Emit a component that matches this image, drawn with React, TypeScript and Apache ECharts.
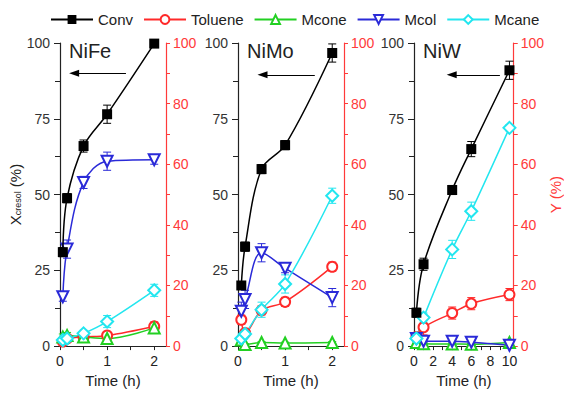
import React, { useEffect, useRef } from 'react';
import * as echarts from 'echarts';

const seriesNames = ['Conv', 'Toluene', 'Mcone', 'Mcol', 'Mcane'];
const panelTitles = ['NiFe', 'NiMo', 'NiW'];

// NiFe (time in h)
const nifeTime = [0.06, 0.15, 0.5, 1, 2];
const nifeConv = [31, 48.8, 66, 76.5, 99.8];
const nifeConvErr = [1.5, 1.5, 2, 3, 1];
const nifeToluene = [1.5, 2.5, 3, 3.5, 6.5];
const nifeTolueneErr = [1, 1, 1, 1, 1.5];
const nifeMcone = [3, 3.5, 3, 2.5, 6];
const nifeMconeErr = [1, 1, 1, 1, 1.5];
const nifeMcol = [16.3, 32, 54, 61, 61.5];
const nifeMcolErr = [1.5, 3, 2, 3, 1.5];
const nifeMcane = [2, 2.5, 4.2, 8.1, 18.4];
const nifeMcaneErr = [0.5, 0.5, 1, 2, 2];

// NiMo
const nimoTime = [0.07, 0.15, 0.5, 1, 2];
const nimoConv = [20, 32.8, 58.4, 66.3, 96.7];
const nimoConvErr = [1, 1.5, 1.5, 1.5, 3];
const nimoToluene = [8.7, 4.3, 11.8, 14.6, 26.2];
const nimoTolueneErr = [1.5, 1, 1.5, 1.5, 1.5];
const nimoMcone = [2, 0.5, 1.2, 1, 1.2];
const nimoMconeErr = [0.5, 0.3, 0.3, 0.3, 0.3];
const nimoMcol = [11.5, 15.4, 30.8, 25.7, 16];
const nimoMcolErr = [3, 3, 3, 1.5, 3];
const nimoMcane = [2.5, 4, 12, 20.5, 49.6];
const nimoMcaneErr = [0.5, 1, 2.5, 3, 2.5];

// NiW
const niwTime = [0.25, 1, 4, 6, 10];
const niwConv = [11, 27, 51.5, 65, 91];
const niwConvErr = [1.5, 2, 1.5, 2.5, 3];
const niwToluene = [3, 6.2, 10.9, 14, 17];
const niwTolueneErr = [1, 2.5, 2, 2, 2];
const niwMcone = [1.2, 0.8, 0.7, 0.6, 1.2];
const niwMconeErr = [0.3, 0.3, 0.3, 0.3, 0.3];
const niwMcol = [2.5, 1.6, 1.6, 1.3, 0.3];
const niwMcolErr = [0.5, 0.5, 0.5, 0.5, 0.3];
const niwMcane = [2.5, 9.4, 31.9, 44.5, 72];
const niwMcaneErr = [1, 1.5, 3, 3, 1];

const xMaxes = [2.25, 2.25, 10.45];
const xIntervals = [1, 1, 2];
const xTickLabels = [[0, 1, 2], [0, 1, 2], [0, 2, 4, 6, 8, 10]];
const arrowFrom = [1.4, 1.63, 9.0];
const arrowTo = [0.3, 0.52, 3.95];
const arrowY = [90, 89.5, 89.5];

const panels = [
  {
    time: nifeTime,
    values: [nifeConv, nifeToluene, nifeMcone, nifeMcol, nifeMcane],
    errs: [nifeConvErr, nifeTolueneErr, nifeMconeErr, nifeMcolErr, nifeMcaneErr],
  },
  {
    time: nimoTime,
    values: [nimoConv, nimoToluene, nimoMcone, nimoMcol, nimoMcane],
    errs: [nimoConvErr, nimoTolueneErr, nimoMconeErr, nimoMcolErr, nimoMcaneErr],
  },
  {
    time: niwTime,
    values: [niwConv, niwToluene, niwMcone, niwMcol, niwMcane],
    errs: [niwConvErr, niwTolueneErr, niwMconeErr, niwMcolErr, niwMcaneErr],
  },
];

const colors = ['#000000', '#ff2a2a', '#22d022', '#2a2ad8', '#22e6ef'];
const symbols = ['rect', 'emptyCircle', 'emptyTriangle', 'emptyTriangle', 'emptyDiamond'];
const symbolRotates = [0, 0, 0, 180, 0];
const symbolSizes = [10, 10, 11, 11, 12];

const FONT = 'Liberation Sans, Arial, sans-serif';
const AXIS_DARK = '#222';
const AXIS_RED = '#ff3a3a';

const gridLayout = [
  { left: 60, top: 43, width: 106, height: 308 },
  { left: 238, top: 43, width: 106, height: 308 },
  { left: 414, top: 43, width: 108, height: 308 },
];

function buildOption() {
  const grid = gridLayout.map((g) => ({ ...g, containLabel: false }));
  const xAxis: any[] = [];
  const yAxis: any[] = [];
  const series: any[] = [];
  const title: any[] = [];

  panels.forEach((p, i) => {
    title.push({
      text: panelTitles[i],
      left: gridLayout[i].left + 9,
      top: 41,
      padding: 0,
      textStyle: { fontSize: 20, fontWeight: 'normal', color: '#222', fontFamily: FONT },
    });
    xAxis.push({
      gridIndex: i,
      type: 'value',
      min: 0,
      max: xMaxes[i],
      interval: xIntervals[i],
      name: 'Time (h)',
      nameLocation: 'middle',
      nameGap: 25,
      nameTextStyle: { fontSize: 15, color: '#222', fontFamily: FONT, fontWeight: 'normal' },
      axisLine: { show: true, onZero: false, lineStyle: { color: AXIS_DARK, width: 1.2 } },
      axisTick: { show: true, inside: false, length: 4, lineStyle: { color: AXIS_DARK }, customValues: xTickLabels[i] },
      minorTick: { show: true, splitNumber: 2, length: 4, lineStyle: { color: AXIS_DARK } },
      axisLabel: { color: '#222', fontSize: 14, margin: 8, fontFamily: FONT, customValues: xTickLabels[i] },
      splitLine: { show: false },
      minorSplitLine: { show: false },
    });
    yAxis.push({
      gridIndex: i,
      type: 'value',
      position: 'left',
      min: 0,
      max: 100,
      interval: 25,
      name: i === 0 ? 'X{s|cresol} (%)' : '',
      nameLocation: 'middle',
      nameRotate: 90,
      nameGap: 33,
      nameTextStyle: {
        fontSize: 15,
        color: '#222',
        fontFamily: FONT,
        fontWeight: 'normal',
        rich: { s: { fontSize: 9, fontFamily: FONT, color: '#222', padding: [6, 0, 0, 0] } },
      },
      axisLine: { show: true, lineStyle: { color: AXIS_DARK, width: 1.2 } },
      axisTick: { show: true, inside: false, length: 6, lineStyle: { color: AXIS_DARK } },
      minorTick: { show: true, splitNumber: 2, length: 5, lineStyle: { color: AXIS_DARK } },
      axisLabel: { color: '#333', fontSize: 14, margin: 10, fontFamily: FONT },
      splitLine: { show: false },
    });
    yAxis.push({
      gridIndex: i,
      type: 'value',
      position: 'right',
      min: 0,
      max: 100,
      interval: 20,
      name: i === 2 ? 'Y (%)' : '',
      nameLocation: 'middle',
      nameRotate: 90,
      nameGap: 30,
      nameTextStyle: { fontSize: 15, color: AXIS_RED, fontFamily: FONT, fontWeight: 'normal' },
      axisLine: { show: true, lineStyle: { color: AXIS_RED, width: 1.2 } },
      axisTick: { show: true, inside: false, length: 4, lineStyle: { color: AXIS_RED } },
      minorTick: { show: true, splitNumber: 2, length: 4, lineStyle: { color: AXIS_RED } },
      axisLabel: { color: AXIS_RED, fontSize: 14, margin: 7, fontFamily: FONT },
      splitLine: { show: false },
    });

    p.values.forEach((vals, j) => {
      const yIdx = j === 0 ? 2 * i : 2 * i + 1;
      const color = colors[j];
      const errs = p.errs[j];
      series.push({
        type: 'custom',
        xAxisIndex: i,
        yAxisIndex: yIdx,
        silent: true,
        z: 3,
        clip: false,
        data: p.time.map((t, k) => [t, vals[k] - errs[k], vals[k] + errs[k]]),
        encode: { x: 0, y: [1, 2] },
        renderItem: (params: any, api: any) => {
          const x = api.value(0);
          const lo = api.coord([x, api.value(1)]);
          const hi = api.coord([x, api.value(2)]);
          const hw = 4;
          const st = { stroke: color, lineWidth: 1 };
          return {
            type: 'group',
            children: [
              { type: 'line', shape: { x1: lo[0], y1: lo[1], x2: hi[0], y2: hi[1] }, style: st },
              { type: 'line', shape: { x1: lo[0] - hw, y1: lo[1], x2: lo[0] + hw, y2: lo[1] }, style: st },
              { type: 'line', shape: { x1: hi[0] - hw, y1: hi[1], x2: hi[0] + hw, y2: hi[1] }, style: st },
            ],
          };
        },
      });
      const s: any = {
        type: 'line',
        name: seriesNames[j],
        xAxisIndex: i,
        yAxisIndex: yIdx,
        data: p.time.map((t, k) => [t, vals[k]]),
        smooth: 0.35,
        symbol: symbols[j],
        symbolSize: symbolSizes[j],
        symbolRotate: symbolRotates[j],
        itemStyle: { color, borderWidth: 1.3 },
        lineStyle: { color, width: 1.5 },
        z: j === 0 ? 6 : 4,
        clip: false,
      };
      if (j === 0) {
        s.markLine = {
          silent: true,
          symbol: ['none', 'triangle'],
          symbolSize: [7, 10],
          lineStyle: { color: '#000', width: 1.2, type: 'solid' },
          label: { show: false },
          data: [[{ coord: [arrowFrom[i], arrowY[i]] }, { coord: [arrowTo[i], arrowY[i]] }]],
        };
      }
      series.push(s);
    });
  });

  return {
    animation: false,
    backgroundColor: '#ffffff',
    textStyle: { fontFamily: FONT },
    title,
    legend: {
      left: 45,
      top: 7,
      itemWidth: 42,
      itemHeight: 11,
      itemGap: 10,
      textStyle: { fontSize: 15, color: '#222', fontFamily: FONT },
      data: seriesNames,
    },
    grid,
    xAxis,
    yAxis,
    series,
  };
}

export default function App() {
  const ref = useRef<HTMLDivElement>(null);
  useEffect(() => {
    if (!ref.current) return;
    const chart = echarts.init(ref.current, null, { renderer: 'svg' });
    chart.setOption(buildOption() as any);
    return () => chart.dispose();
  }, []);
  return (
    <div
      ref={ref}
      style={{ position: 'absolute', left: 0, top: 0, width: 564, height: 393, background: '#fff' }}
    />
  );
}
